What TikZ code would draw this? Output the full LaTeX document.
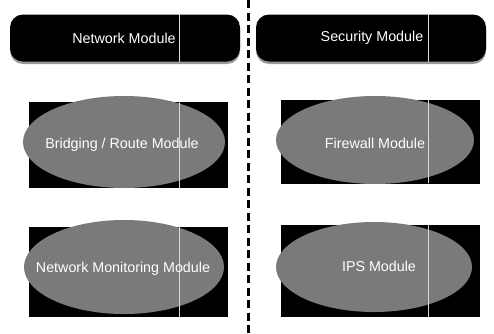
\documentclass[tikz,border=0pt]{standalone}
\usepackage{fontspec}
\setmainfont{Liberation Sans}
\usetikzlibrary{shapes.geometric}
\begin{document}
\begin{tikzpicture}[x=1pt,y=-1pt,
  topbox/.style={draw=none,fill=black,rounded corners=13pt,minimum width=230pt,minimum height=47pt,inner sep=0pt},
  topshadow/.style={draw=none,fill=black!40,rounded corners=13pt,minimum width=230pt,minimum height=47pt,inner sep=0pt},
  backrect/.style={draw=none,fill=black,minimum width=199pt,inner sep=0pt},
  modell/.style={ellipse,draw=none,fill=black!52,inner sep=0pt},
  modtext/.style={text=white,font=\fontsize{14.3}{16}\selectfont,inner sep=0pt},
  whiteline/.style={draw=white!85!black,line width=0.7pt},
  divline/.style={draw=black,line width=2.6pt,dash pattern=on 8pt off 4.5pt}]
\useasboundingbox (0,0) rectangle (494,333);
% top boxes
\node[topshadow] (nms) at (125,40.5) {};
\node[topbox] (nm) at (125,38) {};
\node[topshadow] (sms) at (371,40.5) {};
\node[topbox] (sm) at (371,38) {};
\draw[whiteline] (179,14) -- (179,62);
\draw[whiteline] (428,14) -- (428,62);
\node[modtext] (nmt) at (124,38) {Network Module};
\node[modtext] (smt) at (372,38) {Security Module};
% middle row
\node[backrect,minimum height=86pt] (brr) at (128.5,145) {};
\node[modell,minimum width=202pt,minimum height=92pt] (bre) at (124,142) {};
\draw[whiteline] (179,102) -- (179,188);
\node[modtext] (brt) at (122,145) {Bridging / Route Module};
\node[backrect,minimum height=84pt] (fwr) at (380.5,141.5) {};
\node[modell,minimum width=198pt,minimum height=88pt] (fwe) at (375,140) {};
\draw[whiteline] (428,100) -- (428,183);
\node[modtext] (fwt) at (375,143) {Firewall Module};
% bottom row
\node[backrect,minimum height=90pt] (nmmr) at (128.5,272) {};
\node[modell,minimum width=200pt,minimum height=94pt] (nmme) at (124,267) {};
\draw[whiteline] (179,227) -- (179,317);
\node[modtext] (nmmt) at (123,269) {Network Monitoring Module};
\node[backrect,minimum height=92pt] (ipsr) at (380.5,271) {};
\node[modell,minimum width=196pt,minimum height=90pt] (ipse) at (374,267) {};
\draw[whiteline] (428,225) -- (428,317);
\node[modtext] (ipst) at (379,266) {IPS Module};
% divider
\coordinate (dtop) at (248.5,0);
\coordinate (dbot) at (248.5,333);
\draw[divline] (dtop) -- (dbot);
\end{tikzpicture}
\end{document}
